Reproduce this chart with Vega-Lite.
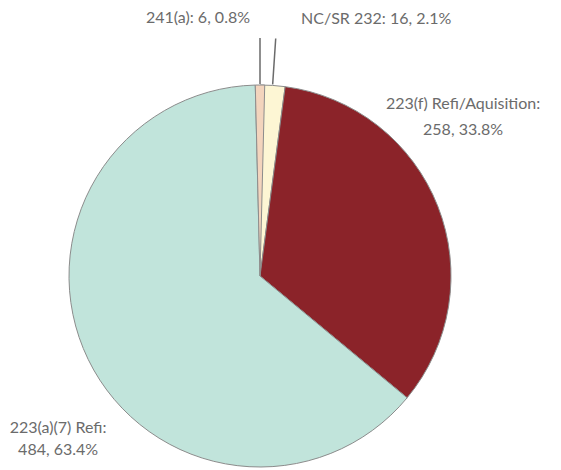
{
  "$schema": "https://vega.github.io/schema/vega-lite/v6.json",
  "width": 520,
  "height": 388,
  "autosize": {"type": "none"},
  "padding": {"left": 0, "right": 41, "top": 82, "bottom": 0},
  "background": "white",
  "config": {"view": {"stroke": null}},
  "data": {
    "values": [
      {"program": "NC/SR 232", "count": 16, "pct": "2.1%", "ord": 1},
      {"program": "223(f) Refi/Aquisition", "count": 258, "pct": "33.8%", "ord": 2},
      {"program": "223(a)(7) Refi", "count": 484, "pct": "63.4%", "ord": 3},
      {"program": "241(a)", "count": 6, "pct": "0.8%", "ord": 4}
    ]
  },
  "transform": [
    {"stack": "count", "groupby": [], "sort": [{"field": "ord"}], "as": ["start", "end"]},
    {"calculate": "(datum.start + datum.end) / 2", "as": "mid"},
    {"calculate": "datum.program + ': ' + datum.count + ', ' + datum.pct", "as": "oneLine"},
    {"calculate": "[datum.program + ':', datum.count + ', ' + datum.pct]", "as": "twoLines"}
  ],
  "layer": [
    {
      "mark": {"type": "arc", "outerRadius": 191, "stroke": "#8c8c8c", "strokeWidth": 1},
      "encoding": {
        "theta": {"field": "start", "type": "quantitative", "stack": null, "scale": {"nice": false, "zero": true}},
        "theta2": {"field": "end"},
        "color": {
          "field": "program",
          "type": "nominal",
          "scale": {
            "domain": ["NC/SR 232", "223(f) Refi/Aquisition", "223(a)(7) Refi", "241(a)"],
            "range": ["#fdf6d4", "#8b2329", "#c1e4db", "#f3d4bd"]
          },
          "legend": null
        }
      }
    },
    {
      "transform": [{"filter": "datum.ord == 1 || datum.ord == 4"}],
      "mark": {"type": "arc", "innerRadius": 192, "outerRadius": 238, "fill": null, "stroke": "#6b6b6b", "strokeWidth": 1.5},
      "encoding": {
        "theta": {"field": "mid", "type": "quantitative", "stack": null},
        "theta2": {"field": "mid"}
      }
    },
    {
      "transform": [{"filter": "datum.ord == 1"}],
      "mark": {"type": "text", "radius": 260, "dx": 99, "dy": 2, "align": "center", "baseline": "middle", "font": "Lato", "fontSize": 16, "fill": "#6b6b6b"},
      "encoding": {
        "theta": {"field": "mid", "type": "quantitative", "stack": null},
        "text": {"field": "oneLine"}
      }
    },
    {
      "transform": [{"filter": "datum.ord == 4"}],
      "mark": {"type": "text", "radius": 260, "dx": -62, "dy": 2, "align": "center", "baseline": "middle", "font": "Lato", "fontSize": 16, "fill": "#6b6b6b"},
      "encoding": {
        "theta": {"field": "mid", "type": "quantitative", "stack": null},
        "text": {"field": "oneLine"}
      }
    },
    {
      "transform": [{"filter": "datum.ord == 2"}],
      "mark": {"type": "text", "radius": 260, "dx": -39, "dy": -77, "align": "center", "baseline": "middle", "lineHeight": 26, "font": "Lato", "fontSize": 16, "fill": "#6b6b6b"},
      "encoding": {
        "theta": {"field": "mid", "type": "quantitative", "stack": null},
        "text": {"field": "twoLines"}
      }
    },
    {
      "transform": [{"filter": "datum.ord == 3"}],
      "mark": {"type": "text", "radius": 260, "dx": 32, "dy": 38, "align": "center", "baseline": "middle", "lineHeight": 22, "font": "Lato", "fontSize": 16, "fill": "#6b6b6b"},
      "encoding": {
        "theta": {"field": "mid", "type": "quantitative", "stack": null},
        "text": {"field": "twoLines"}
      }
    }
  ]
}
